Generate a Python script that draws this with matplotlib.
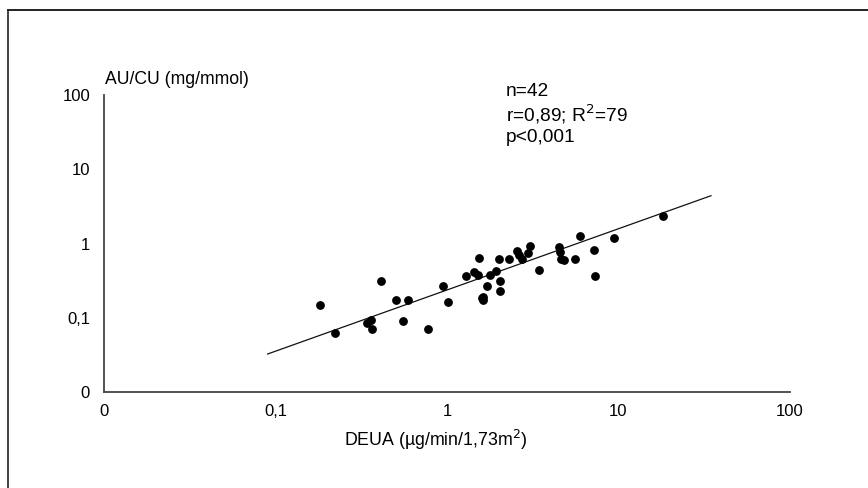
#!/usr/bin/env python3

import matplotlib
matplotlib.use("Agg")
import matplotlib.pyplot as plt
from matplotlib.lines import Line2D

plt.rcParams['font.family'] = ['Liberation Sans', 'DejaVu Sans']

# urinary albumin excretion (DEUA) vs albumin/creatinine ratio, n = 42
deua = [0.182, 0.222, 0.342, 0.360, 0.363, 0.415, 0.504, 0.554, 0.595, 0.775,
        0.942, 1.018, 1.291, 1.437, 1.510, 1.537, 1.621, 1.615, 1.718, 1.781,
        1.931, 2.018, 2.037, 2.037, 2.299, 2.570, 2.640, 2.727, 2.979, 3.048,
        3.440, 4.516, 4.559, 4.620, 4.831, 5.577, 5.965, 7.195, 7.342, 9.452,
        18.18, 1.60]
au_cu = [0.148, 0.0623, 0.0849, 0.0933, 0.0716, 0.315, 0.171, 0.0912, 0.171, 0.0699,
         0.268, 0.163, 0.365, 0.409, 0.377, 0.632, 0.1885, 0.176, 0.268, 0.382,
         0.426, 0.618, 0.315, 0.229, 0.612, 0.800, 0.700, 0.612, 0.756, 0.925,
         0.433, 0.906, 0.761, 0.609, 0.600, 0.618, 1.262, 0.805, 0.362, 1.175,
         2.346, 0.182]

# regression line end points (log-log)
fit_x = [0.09, 34.6]
fit_y = [0.0325, 4.4]

ticks = [0.01, 0.1, 1, 10, 100]
tick_labels = ["0", "0,1", "1", "10", "100"]

stats_lines = ["n=42", "r=0,89; R$^2$=79", "p<0,001"]


def main():

    figure = plt.figure(figsize=(8.68, 4.88), dpi=100)
    graph = figure.add_axes([104/868, 1 - 392/488, 686/868, 297/488])

    graph.set_xscale("log")
    graph.set_yscale("log")
    graph.set_xlim(0.01, 100)
    graph.set_ylim(0.01, 100)

    graph.plot(fit_x, fit_y, color="#111111", linewidth=0.9)
    graph.plot(deua, au_cu, "o", color="black", markersize=5.3, clip_on=False)

    graph.set_xticks(ticks)
    graph.set_xticklabels(tick_labels)
    graph.set_yticks(ticks)
    graph.set_yticklabels(tick_labels)
    graph.minorticks_off()
    graph.tick_params(length=0, labelsize=12, colors="black")
    graph.tick_params(axis="x", pad=9)
    graph.tick_params(axis="y", pad=10)

    graph.spines.right.set_color("none")
    graph.spines.top.set_color("none")
    graph.spines.left.set_color("#444444")
    graph.spines.bottom.set_color("#444444")
    graph.spines.left.set_linewidth(1.3)
    graph.spines.bottom.set_linewidth(1.3)

    figure.text(105/868, 1 - 80/488, "AU/CU (mg/mmol)", fontsize=12.7,
                ha="left", va="center")
    figure.text(436/868, 1 - 440/488, "DEUA (\u00b5g/min/1,73m$^2$)", fontsize=12.8,
                ha="center", va="center")

    for i, line in enumerate(stats_lines):
        figure.text(506/868, 1 - (92 + 22.5*i)/488, line, fontsize=13.8,
                    ha="left", va="center")

    # frame along the top and left edges
    figure.add_artist(Line2D([8/868, 1], [1 - 10/488, 1 - 10/488],
                             transform=figure.transFigure, color="#222222", linewidth=1.4))
    figure.add_artist(Line2D([8/868, 8/868], [0, 1 - 10/488],
                             transform=figure.transFigure, color="#222222", linewidth=1.2))

    figure.savefig("out.png", dpi=100)


if __name__ == "__main__":

    main()
